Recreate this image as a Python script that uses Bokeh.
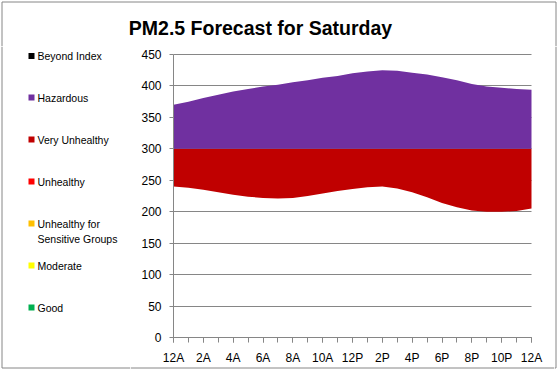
import numpy as np
from bokeh.plotting import figure
from bokeh.layouts import column, row
from bokeh.models import FixedTicker, Range1d
from bokeh.core.properties import value
from bokeh.embed import file_html
from bokeh.resources import INLINE

# ---- data ----
hours = list(range(25))
high = [370, 375, 381, 386, 391, 395, 399, 402, 406, 409, 413, 416, 420,
        423, 425, 424, 421, 418, 414, 409, 403, 399, 397, 395, 394]
low = [240, 238, 235, 231, 227, 224, 222, 221, 222, 225, 229, 233, 236,
       239, 240, 237, 231, 223, 214, 207, 202, 200, 200, 201, 205]
boundary = 300  # Very Unhealthy / Hazardous break
x_tick_hours = [0, 2, 4, 6, 8, 10, 12, 14, 16, 18, 20, 22, 24]
x_tick_labels = ["12A", "2A", "4A", "6A", "8A", "10A", "12P", "2P", "4P", "6P", "8P", "10P", "12A"]
y_ticks = [0, 50, 100, 150, 200, 250, 300, 350, 400, 450]
legend_names = ["Beyond Index", "Hazardous", "Very Unhealthy", "Unhealthy",
                "Unhealthy for", "Moderate", "Good"]
legend_extra_line = "Sensitive Groups"
legend_colors = ["#000000", "#7030A0", "#C00000", "#FF0000", "#FFC000", "#FFFF00", "#00B050"]
title_text = "PM2.5 Forecast for Saturday"

GRAY = "#868686"
FONT = "Liberation Sans"
W, H = 557, 370
TITLE_H = 46
LEG_W = 130
STRIP_R = 3
MID_H = H - TITLE_H
MAIN_W = W - LEG_W - STRIP_R
BOTTOM_Y = 321.5  # border row inside the lower strips

# plot-area placement (page pixels): x 0..24 -> 173..531, y 0..450 -> 337..54
PX_L, PX_R, PX_T, PX_B = 173, 531, 54, 337
X_MAX, Y_MAX = 24, 450


def pixel_fig(w, h):
    f = figure(width=w, height=h, output_backend="svg", toolbar_location=None,
               x_range=Range1d(0, w), y_range=Range1d(h, 0),
               x_axis_type=None, y_axis_type=None, min_border=0,
               background_fill_color="white", border_fill_color="white")
    f.outline_line_color = None
    f.grid.visible = False
    f.frame_align = False
    return f


# ---- title strip ----
t = pixel_fig(W, TITLE_H)
t.segment(x0=[1.5, 1.5, W - 1.5], y0=[1.5, 1.5, 1.5], x1=[W - 1.5, 1.5, W - 1.5], y1=[1.5, TITLE_H, TITLE_H],
          line_color=GRAY, line_width=1)
t.text(x=[260], y=[27], text=[title_text], text_font=value(FONT), text_font_style="bold",
       text_font_size="19.5px", text_align="center", text_baseline="middle", text_color="#000000")

# ---- legend strip ----
lg = pixel_fig(LEG_W, MID_H)
lg.segment(x0=[1.5, 1.5], y0=[0, BOTTOM_Y], x1=[1.5, LEG_W], y1=[BOTTOM_Y, BOTTOM_Y],
           line_color=GRAY, line_width=1)
leg_y = [9.5, 51, 93, 135, 177, 219, 261]
lg.quad(left=[28] * 7, right=[34] * 7, top=[y - 3 for y in leg_y], bottom=[y + 3 for y in leg_y],
        fill_color=legend_colors, line_color=None)
lg.text(x=[37] * 8, y=leg_y + [192], text=legend_names + [legend_extra_line],
        text_font=value(FONT), text_font_size="10.5px", text_align="left",
        text_baseline="middle", text_color="#000000")

# ---- right strip ----
rs = pixel_fig(STRIP_R, MID_H)
rs.segment(x0=[1.5, 0], y0=[0, BOTTOM_Y], x1=[1.5, 1.5], y1=[BOTTOM_Y, BOTTOM_Y],
           line_color=GRAY, line_width=1)

# ---- main chart: frame fills the whole figure, axes pinned at 0 ----
xpx = (PX_R - PX_L) / X_MAX
ypx = (PX_B - PX_T) / Y_MAX
x0 = -(PX_L - LEG_W) / xpx
x1 = X_MAX + ((LEG_W + MAIN_W) - PX_R) / xpx
y0 = -(H - PX_B) / ypx
y1 = Y_MAX + (PX_T - TITLE_H) / ypx

p = figure(width=MAIN_W, height=MID_H, output_backend="svg", toolbar_location=None,
           x_range=Range1d(x0, x1), y_range=Range1d(y0, y1), min_border=0,
           background_fill_color="white", border_fill_color="white")
p.outline_line_color = None
p.frame_align = False

hi = np.array(high, dtype=float)
lo = np.array(low, dtype=float)
p.varea(x=hours, y1=np.minimum(lo, boundary), y2=np.minimum(hi, boundary), fill_color="#C00000")
p.varea(x=hours, y1=np.maximum(lo, boundary), y2=np.maximum(hi, boundary), fill_color="#7030A0")

p.xaxis.ticker = FixedTicker(ticks=x_tick_hours, minor_ticks=hours)
p.xaxis.major_label_overrides = {h: l for h, l in zip(x_tick_hours, x_tick_labels)}
p.yaxis.ticker = FixedTicker(ticks=y_ticks)
for ax in (p.xaxis[0], p.yaxis[0]):
    ax.fixed_location = 0
    ax.axis_line_color = GRAY
    ax.major_tick_line_color = GRAY
    ax.minor_tick_line_color = GRAY
    ax.major_tick_in = 0
    ax.minor_tick_in = 0
    ax.major_label_text_font = FONT
    ax.major_label_text_font_size = "12px"
    ax.major_label_text_color = "#000000"
p.xaxis.bounds = (0, X_MAX)
p.yaxis.bounds = (0, Y_MAX)
p.xaxis.major_tick_out = 5
p.xaxis.minor_tick_out = 5
p.xaxis.major_label_standoff = 8
p.yaxis.major_tick_out = 4
p.yaxis.minor_tick_line_color = None
p.yaxis.major_label_standoff = 8
p.xgrid.grid_line_color = None
p.ygrid.grid_line_color = GRAY
p.ygrid.ticker = FixedTicker(ticks=y_ticks)
p.ygrid.cross_bounds = (0, X_MAX)

# outer chart border along the bottom
border_y = -((TITLE_H + BOTTOM_Y) - PX_B) / ypx
p.segment(x0=[x0], y0=[border_y], x1=[x1], y1=[border_y], line_color=GRAY, line_width=1)

layout = column(t, row(lg, p, rs))
open("out.html", "w").write(file_html(layout, INLINE))
